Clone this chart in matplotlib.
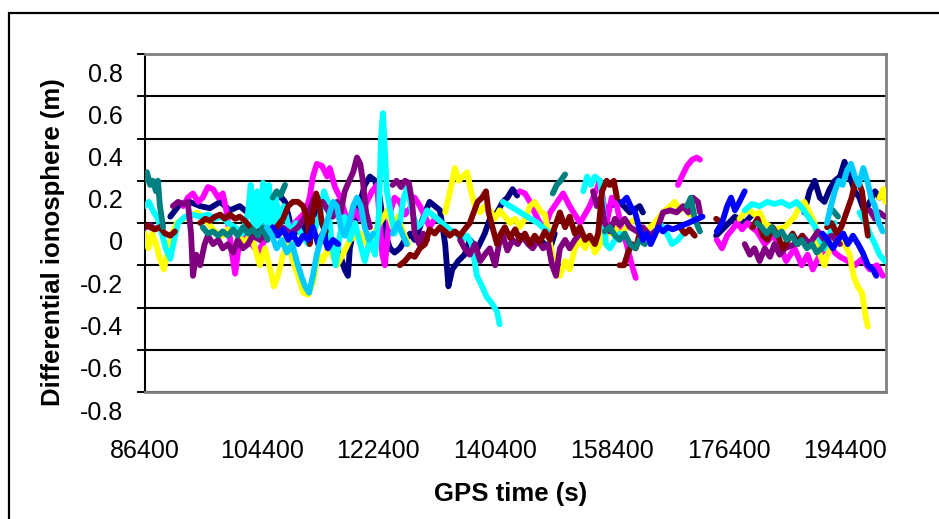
import numpy as np
import matplotlib.pyplot as plt
from matplotlib.patches import Rectangle
from matplotlib.transforms import ScaledTranslation

plt.rcParams['font.family'] = ['Liberation Sans', 'DejaVu Sans']

# differential ionosphere per satellite pair: (GPS time [s], value [m]); None marks a data gap
navy = [
    (90300, 0.03), (91800, 0.09), (93300, 0.10), (94900, 0.08), (96400, 0.07), (98000, 0.10), (99500, 0.06),
    (101000, 0.08), (102600, 0.04), (104100, 0.10), (105700, 0.08), (107200, 0.13), (108000, 0.10), (108800, 0.0),
    (109500, -0.05), (110300, 0.02), (111100, -0.04), (112600, 0.06), (113400, 0.02), (114200, -0.04), (114900, -0.08),
    (115700, -0.12), (116500, -0.15), (117200, -0.22), (117700, -0.25), (118000, -0.12), (118800, 0.0), (119600, 0.10),
    (120300, 0.18), (121100, 0.22), (121900, 0.20), (122600, 0.12), (123400, -0.05), (124200, -0.12), (124900, -0.14),
    (125700, -0.12), (126500, -0.08), (127300, -0.05), (128000, -0.08), (128800, -0.02), (129600, 0.05), (130300, 0.10),
    (131100, 0.08), (131900, 0.06), (132700, -0.10), (133200, -0.30), (133800, -0.22), (134700, -0.18), (135700, -0.15),
    (136500, -0.08), (137700, -0.12), (138800, -0.05), (139600, 0.02), (140700, 0.05), (141600, 0.10), (142300, 0.12),
    (143100, 0.16), (143800, 0.13),
    None,
    (144200, -0.06), (145800, -0.10), (147300, -0.08), (148900, -0.12), (149600, -0.05),
    None,
    (156600, 0.03), (158100, 0.08), (159600, 0.10), (161200, 0.05), (162700, 0.08), (163200, 0.05),
    None,
    (174500, -0.06), (175800, -0.02), (177400, 0.03), (178900, 0.0), (180100, 0.04),
    None,
    (188100, 0.05), (188900, 0.15), (189700, 0.20), (190500, 0.12), (191200, 0.10), (192000, 0.16), (192800, 0.20),
    (193600, 0.22), (194300, 0.29), (195100, 0.22), (195900, 0.15), (196600, 0.12), (197400, 0.05), (198200, 0.10),
    (199000, 0.15), (199700, 0.12), (200500, 0.14),
]

magenta = [
    (92300, 0.08), (93000, 0.12), (93800, 0.14), (94600, 0.10), (95300, 0.12), (96100, 0.17), (96900, 0.16),
    (97700, 0.12), (98400, 0.14), (99000, 0.05), (99700, -0.12), (100300, -0.24), (100900, -0.10), (101800, -0.06),
    (102900, -0.10), (103800, -0.14), (104900, -0.08), (106000, -0.05), (106900, -0.02), (108000, -0.04), (109500, 0.0),
    (111100, 0.05), (111800, 0.12), (112300, 0.22), (112900, 0.28), (113700, 0.27), (114500, 0.22), (114900, 0.26),
    (115700, 0.17), (116500, 0.12), (117200, 0.05), (118000, 0.0), (118800, 0.06), (119600, 0.02), (120300, 0.08),
    (121400, 0.15), (122200, 0.18), (123000, -0.15), (123400, -0.20), (124200, 0.05), (124900, 0.12), (125700, 0.10),
    (126500, 0.04), (127300, 0.07), (128000, 0.12), (128800, 0.08), (129600, 0.03), (130300, -0.02), (131100, 0.02),
    None,
    (144200, 0.15), (145000, 0.14), (145800, 0.10), (146500, 0.05), (147300, 0.0), (148100, -0.02), (148900, 0.05),
    (150000, 0.10), (150900, 0.14), (151900, 0.08), (152700, 0.04), (153500, 0.0), (155000, 0.08), (156600, 0.20),
    (157100, 0.10), (157600, 0.0), (158400, 0.12), (159200, 0.08), (160000, -0.04), (160700, -0.10), (161500, -0.20),
    (162100, -0.26),
    None,
    (168600, 0.18), (169200, 0.22), (170000, 0.27), (170800, 0.30), (171500, 0.31), (172000, 0.30),
    None,
    (174600, -0.08), (175400, -0.12), (176200, -0.06), (177000, -0.03), (177700, 0.0), (178500, -0.03), (179300, 0.0),
    (180000, -0.02), (180800, -0.04), (182000, -0.10), (183200, -0.06), (184300, -0.10), (185300, -0.18), (186600, -0.12),
    (187700, -0.20), (188600, -0.15), (189400, -0.22), (190500, -0.15), (192000, -0.10), (192800, -0.14), (193600, -0.16),
    (194800, -0.18), (195900, -0.20), (197000, -0.17), (198200, -0.22), (199300, -0.20), (200200, -0.25),
]

yellow = [
    (86400, -0.05), (86900, -0.12), (87500, -0.05), (88100, -0.10), (88700, -0.17), (89300, -0.22), (89800, -0.15),
    (90600, -0.05), (91300, 0.0), (92300, 0.02), (93300, 0.03), (94400, 0.05), (95300, 0.03), (96100, 0.0),
    (97200, -0.04), (98300, -0.06), (99500, -0.02), (100700, -0.05), (101800, -0.10), (102600, -0.05), (103400, -0.12),
    (104100, -0.20), (104900, -0.12), (105700, -0.22), (106300, -0.30), (106900, -0.25), (107700, -0.15), (108500, -0.10),
    (109200, -0.18), (110000, -0.25), (110800, -0.33), (111600, -0.34), (112300, -0.28), (113100, -0.15), (113800, -0.18),
    (114600, -0.12), (115400, -0.16), (116000, -0.20), (116900, -0.15), (118000, -0.08), (119600, -0.05), (121100, -0.12),
    (122200, -0.02), (123000, 0.02), (123800, 0.06), (124600, -0.02), (125400, 0.03), (126200, -0.04), (127000, -0.10),
    None,
    (132700, 0.05), (133800, 0.20), (134200, 0.26), (134800, 0.20), (135400, 0.22), (136100, 0.24), (136700, 0.15),
    (137300, 0.08), (138100, 0.05), (138800, 0.08), (139600, 0.06), (140400, 0.02), (141100, 0.06), (141900, 0.03),
    (142700, 0.0), (143500, 0.02), (144200, -0.02), (145000, 0.02), (145800, 0.08), (146500, 0.10), (147300, 0.06),
    (148100, 0.04), (148900, -0.10), (149600, -0.20), (150400, -0.25), (151200, -0.18), (151900, -0.22), (152700, -0.12),
    (153500, -0.08), (154300, -0.12), (155000, -0.06), (155800, -0.14), (156600, -0.10), (157300, -0.02), (158100, -0.05),
    (158900, -0.02), (159600, -0.06), (160400, -0.03), (161200, 0.0), (162000, 0.02), (162700, -0.02), (163500, -0.05),
    (164300, -0.02), (165000, 0.0), (165800, 0.03), (166600, 0.06), (167400, 0.08), (168100, 0.10), (168900, 0.06),
    (169700, 0.08), (170400, 0.04),
    None,
    (178100, 0.02), (178900, 0.05), (179700, 0.06), (180400, 0.04), (181200, 0.05), (182000, 0.0), (183500, -0.03),
    (185100, -0.02), (186600, 0.03), (187400, 0.08), (188100, 0.10), (188900, 0.05), (189700, 0.0), (190500, -0.15),
    (191200, -0.20), (192000, -0.12), (193200, -0.08), (194300, -0.10), (195100, -0.15), (195700, -0.25), (196300, -0.30),
    (197000, -0.33), (197600, -0.45), (197900, -0.49),
    None,
    (199700, 0.12), (200300, 0.16), (200600, 0.10),
]

cyan = [
    (86400, 0.08), (87000, 0.10), (87600, 0.06), (88400, 0.02), (89000, -0.05), (89600, -0.12), (90300, -0.17),
    (90900, -0.08), (91500, 0.0), (92600, 0.03), (93700, 0.04), (94900, 0.03), (96100, 0.04), (97200, 0.02),
    (98300, 0.03), (99200, 0.0), (100300, -0.02), (101400, -0.05), (102300, 0.05), (102700, 0.18), (103200, -0.05),
    (103700, 0.15), (104100, -0.02), (104600, 0.19), (105100, 0.0), (105500, 0.18), (106000, -0.05), (106600, 0.12),
    (107200, -0.02), (107800, 0.08), (108800, -0.05), (109700, 0.0), (110600, -0.06), (111600, -0.10), (112500, -0.04),
    (113400, 0.04), (114000, 0.15), (114600, 0.10), (115200, -0.10), (115800, -0.20), (116500, -0.05), (117200, 0.03),
    (118000, -0.08), (118800, 0.0), (119600, -0.10), (120300, -0.18), (121100, -0.08), (121900, -0.15), (122500, 0.05),
    (122800, 0.40), (123100, 0.52), (123400, 0.35), (123700, 0.15), (124300, 0.05), (124900, -0.05), (125700, 0.0),
    (126300, 0.12), (126900, 0.17), (127600, 0.05), (128400, -0.02), (129100, 0.0), (129900, 0.06), (130700, 0.04),
    (131500, 0.02), (132200, 0.0), (133000, -0.02), (133800, -0.04), (134500, -0.05), (135300, -0.08), (136100, -0.06),
    (136800, -0.10), (137600, -0.25), (138400, -0.30), (139100, -0.35), (139900, -0.38), (140700, -0.42), (141100, -0.48),
    None,
    (141600, 0.10), (142700, 0.08), (143800, 0.06), (144800, 0.04), (145900, 0.02), (147000, 0.0), (148100, -0.03),
    (148900, -0.05),
    None,
    (154000, 0.15), (154600, 0.22), (155200, 0.18), (155800, 0.22), (156600, 0.20), (157000, 0.10), (157500, -0.10),
    (158100, -0.12), (158900, -0.08), (159600, -0.05),
    None,
    (165800, 0.0), (166900, -0.05), (167700, -0.10), (168600, -0.08), (169400, -0.05),
    None,
    (178900, 0.06), (180000, 0.09), (181200, 0.08), (182400, 0.10), (183500, 0.09), (184600, 0.10), (185800, 0.08),
    (186900, 0.10), (187800, 0.07), (188900, 0.02), (189800, -0.02), (190500, -0.08), (191200, -0.12), (192000, -0.05),
    (192800, 0.0),
    None,
    (196600, 0.05), (197600, 0.0), (198200, -0.05), (199000, -0.10), (199700, -0.15), (200500, -0.18),
]

purple = [
    (86400, -0.02), (87200, -0.01), (87900, -0.03), (88700, -0.02),
    None,
    (90700, 0.08), (91500, 0.10), (92300, 0.09), (93000, 0.10), (93500, -0.05), (93800, -0.25), (94300, -0.15),
    (94900, -0.20), (95600, -0.10), (96100, -0.06), (96900, -0.10), (97700, -0.08), (98400, -0.12), (99200, -0.10),
    (100000, -0.14), (100700, -0.08), (101500, -0.12), (102300, -0.10), (103000, -0.06), (104100, -0.08), (105300, -0.04),
    (106400, -0.06), (107600, -0.02), (108800, -0.05), (110000, -0.02), (111100, 0.03), (111800, 0.06), (112500, 0.12),
    (113100, 0.08), (113800, 0.10), (114600, 0.06), (115400, 0.03), (116000, 0.10), (116600, 0.05), (117200, 0.15),
    (117900, 0.20), (118500, 0.24), (119100, 0.31), (119600, 0.28), (120000, 0.20), (120500, 0.05), (121100, -0.02),
    None,
    (124600, 0.18), (125200, 0.20), (125900, 0.17), (126500, 0.20), (127100, 0.19), (127600, 0.10), (128000, -0.05),
    (128700, -0.10), (129300, -0.05), (129900, -0.08),
    None,
    (135000, -0.08), (135700, -0.12), (136500, -0.15), (137300, -0.10), (138100, -0.18), (138800, -0.15), (139600, -0.12),
    (140400, -0.20), (141000, -0.10), (141600, -0.06), (142300, -0.13), (143100, -0.08), (143900, -0.10), (144700, -0.06),
    (145500, -0.10), (146200, -0.12), (147000, -0.08), (147800, -0.12), (148600, -0.10), (149200, -0.20), (149800, -0.25),
    (150400, -0.12), (151200, -0.08), (151900, -0.12), (152700, -0.08), (153500, -0.05),
    None,
    (155500, 0.15), (156100, 0.08), (156700, 0.12), (157300, 0.0), (158100, -0.04), (158900, 0.02), (159600, -0.01),
    (160400, 0.02), (161200, -0.02), (162300, -0.04), (163200, -0.02), (164300, -0.06), (165400, -0.03), (166300, 0.05),
    (167400, 0.06), (168400, 0.05), (169400, 0.08), (170200, 0.05), (170900, 0.12), (171700, 0.10), (172000, 0.05),
    None,
    (178900, -0.10), (179700, -0.15), (180400, -0.12), (181200, -0.18), (182000, -0.12), (182800, -0.16), (183500, -0.10),
    (184300, -0.15), (185100, -0.12), (186600, -0.10), (187800, -0.06), (188900, -0.10), (190200, -0.04), (191200, -0.08),
    (192300, -0.06), (193600, -0.10),
    None,
    (198200, 0.06), (199000, 0.02), (199700, 0.05), (200500, 0.03),
]

maroon = [
    (86400, -0.01), (87200, -0.02), (87900, -0.03), (88700, -0.02), (89500, -0.05), (90300, -0.06), (91000, -0.04),
    None,
    (94900, 0.0), (95700, 0.02), (96400, 0.01), (97200, 0.03), (98000, 0.04), (98700, 0.02), (99500, 0.04),
    (100300, 0.02), (101000, 0.03), (101800, 0.01), (102600, -0.02), (103400, -0.05), (104500, -0.03), (105700, -0.05),
    (106700, -0.02), (107700, 0.02), (108500, 0.08), (109200, 0.10), (110000, 0.10), (110800, 0.08), (111400, 0.02),
    (111800, -0.10), (112300, 0.05), (112800, 0.14), (113200, 0.10), (113700, 0.0), (114300, -0.04),
    None,
    (125700, -0.20), (126500, -0.18), (127300, -0.15), (128000, -0.16), (128800, -0.12), (129600, -0.10), (130300, -0.03),
    (131100, -0.05), (131900, -0.02), (132700, -0.04), (133400, -0.06), (134200, -0.04), (135000, -0.06), (135700, -0.03),
    (136500, 0.0), (137100, 0.05), (137700, 0.10), (138400, 0.12), (139000, 0.15), (139400, 0.05), (140000, -0.02),
    (140700, -0.10), (141300, -0.05), (141900, -0.02), (142700, -0.07), (143500, -0.03), (144200, -0.08), (145000, -0.05),
    (145800, -0.10), (146500, -0.06), (147300, -0.09), (148100, -0.04), (148900, -0.08), (149600, -0.02), (150400, 0.05),
    (151200, -0.02), (151900, 0.03), (152700, -0.05), (153500, -0.02), (154300, -0.08), (155000, -0.06), (155800, -0.10),
    (156300, -0.05), (156900, 0.15), (157600, 0.20), (158100, 0.18), (158700, 0.20), (159200, 0.12),
    None,
    (159600, -0.20), (160300, -0.20), (160900, -0.14), (161500, -0.10), (162100, -0.12), (162700, -0.05),
    None,
    (168900, -0.02), (169700, -0.05), (170400, -0.03), (171200, -0.06),
    None,
    (174500, 0.02), (175400, 0.0),
    None,
    (180100, -0.02), (180900, 0.02), (181700, -0.06), (182400, -0.08), (183200, -0.02), (184000, -0.06), (184800, -0.12),
    (185600, -0.08), (186300, -0.05), (187100, -0.10), (187800, -0.06),
    None,
    (191600, -0.02), (192300, 0.0), (193100, -0.05), (193800, -0.02), (194600, 0.05), (195400, 0.12), (196000, 0.20),
    (196400, 0.20), (197000, 0.15), (197400, 0.05), (197900, -0.06),
]

teal = [
    (86400, 0.20), (86700, 0.24), (87200, 0.18), (87600, 0.20), (88100, 0.15), (88400, 0.20), (88700, 0.08),
    (89000, 0.02), (89200, -0.02),
    None,
    (95300, -0.02), (96100, -0.05), (96900, -0.04), (97700, -0.06), (98400, -0.04), (99200, -0.06), (100000, -0.03),
    (100700, -0.06), (101500, -0.02), (102300, -0.05), (103000, -0.03), (103800, -0.06), (104600, -0.02), (105300, -0.08),
    None,
    (106100, 0.12), (106700, 0.15), (107300, 0.13), (108000, 0.18),
    None,
    (149300, 0.14), (149900, 0.18), (150500, 0.20), (151200, 0.23),
    None,
    (157300, -0.04), (158100, -0.02), (158900, -0.06), (159600, -0.08), (160400, -0.05), (161200, -0.10), (162000, -0.12),
    (162700, -0.08), (163500, -0.10),
    None,
    (170000, 0.08), (170600, 0.12), (171200, 0.02), (172000, -0.04),
    None,
    (180800, 0.0), (181500, -0.02), (182300, -0.05), (183100, -0.02), (183800, -0.06), (184600, -0.04), (185400, -0.08),
    (186200, -0.06), (187000, -0.10), (187700, -0.08), (188500, -0.12), (189300, -0.10), (190000, -0.14), (190800, -0.12),
    (191700, -0.08),
    None,
    (192500, 0.06), (193300, 0.03),
]

blue = [
    (106100, -0.02), (106900, -0.06), (107700, -0.03), (108500, -0.08), (109200, -0.05), (110000, -0.10), (110800, -0.06),
    (111600, -0.08), (112300, -0.02), (113100, -0.10), (113800, -0.05), (114600, -0.12), (115400, -0.08), (116200, -0.10),
    None,
    (160100, 0.10), (160700, 0.12), (161300, 0.08), (162000, 0.05), (162600, -0.02), (163200, -0.08), (163800, -0.05),
    (164400, -0.10), (165000, -0.06), (165600, -0.02), (166300, -0.04), (167000, -0.02), (167800, -0.03), (168600, -0.02),
    (169400, -0.01), (170200, 0.0), (170900, 0.01), (171700, 0.02), (172400, 0.03),
    None,
    (174600, -0.04), (175400, 0.0), (176200, 0.08), (176800, 0.12), (177400, 0.06), (178100, 0.10), (178900, 0.15),
    None,
    (190900, -0.05), (191700, -0.08), (192500, -0.12), (193300, -0.08), (194100, -0.05), (194800, -0.10), (195600, -0.06),
    (196400, -0.10), (197100, -0.14), (197900, -0.20), (198700, -0.22), (199200, -0.25),
]

skyblue = [
    (105200, -0.02), (106000, -0.06), (106700, -0.12), (107500, -0.08), (108300, -0.14), (109100, -0.10), (109800, -0.18),
    (110500, -0.25), (111100, -0.30), (111700, -0.33), (112300, -0.25), (112900, -0.15), (113500, -0.08), (114200, -0.02),
    (114800, 0.04), (115400, 0.10), (116000, 0.08), (116600, -0.02), (117200, -0.06), (117900, 0.0), (118500, 0.08),
    (119100, 0.12), (119700, 0.08), (120300, -0.02), (120900, -0.08), (121600, -0.05),
    None,
    (124600, -0.05), (125400, 0.0), (126200, -0.06), (126800, -0.10),
    None,
    (191600, 0.0), (192200, 0.08), (192800, 0.15), (193400, 0.20), (194000, 0.18), (194700, 0.25), (195300, 0.28),
    (195900, 0.22), (196500, 0.18), (197200, 0.26), (197800, 0.20), (198400, 0.12), (199000, 0.08), (199600, 0.0),
    (200200, -0.04),
]

x_ticks = [86400, 104400, 122400, 140400, 158400, 176400, 194400]
y_ticks = [-0.8, -0.6, -0.4, -0.2, 0, 0.2, 0.4, 0.6, 0.8]
y_labels = ['-0.8', '-0.6', '-0.4', '-0.2', '0', '0.2', '0.4', '0.6', '0.8']

series = [
    (navy, '#000080'), (magenta, '#FF00FF'), (yellow, '#FFFF00'), (cyan, '#00FFFF'), (purple, '#800080'),
    (maroon, '#800000'), (teal, '#008080'), (blue, '#0000FF'), (skyblue, '#00CCFF'),
]


def unpack(points):
    t = [np.nan if p is None else p[0] for p in points]
    v = [np.nan if p is None else p[1] for p in points]
    return np.array(t, dtype=float), np.array(v, dtype=float)


fig = plt.figure(figsize=(9.39, 5.19), dpi=100)
ax = fig.add_axes([145 / 939, 1 - 392 / 519, (886 - 145) / 939, (392 - 54) / 519])

for pts, col in series:
    t, v = unpack(pts)
    ax.plot(t, v, color=col, lw=4.2, solid_capstyle='round', solid_joinstyle='round', zorder=3)

ax.set_xlim(86400, 200700)
ax.set_ylim(-0.8, 0.8)

ax.set_yticks(y_ticks)
ax.set_yticklabels(y_labels)
ax.set_xticks(x_ticks)
ax.set_xticklabels([str(x) for x in x_ticks])

ax.yaxis.grid(True, color='black', lw=1.5)
ax.set_axisbelow(True)

ax.tick_params(axis='y', direction='out', length=5.8, width=1.4, pad=10, labelsize=18, color='black')
ax.tick_params(axis='x', length=0, pad=34, labelsize=18)

# Excel-style label placement: y labels sit a bit below their gridlines
shift = ScaledTranslation(0, -18 / 100, fig.dpi_scale_trans)
for lab in ax.get_yticklabels():
    lab.set_transform(lab.get_transform() + shift)

ax.spines['left'].set_color('black')
ax.spines['left'].set_linewidth(1.5)
for side in ['top', 'right', 'bottom']:
    ax.spines[side].set_color('#808080')
    ax.spines[side].set_linewidth(2)

fig.text(53 / 939, 1 - 242 / 519, 'Differential ionosphere (m)', rotation=90, fontsize=18.5,
         fontweight='bold', ha='center', va='center')
fig.text(511 / 939, 1 - 494 / 519, 'GPS time (s)', fontsize=18.5, fontweight='bold', ha='center', va='center')

# chart area border
fig.patches.append(Rectangle((8.5 / 939, -0.1), 1.2, 1 - 12.5 / 519 + 0.1, transform=fig.transFigure,
                             fill=False, lw=1.6, ec='black'))

fig.savefig('out.png', dpi=100)
